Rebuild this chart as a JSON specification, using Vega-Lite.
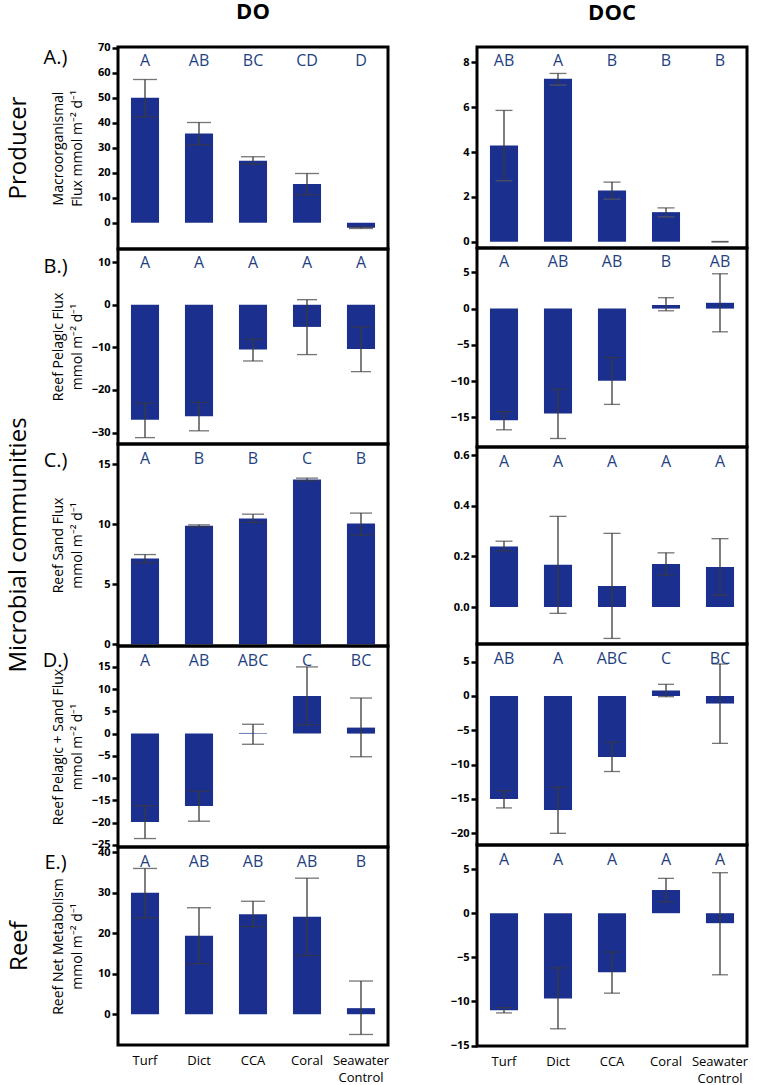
{
  "$schema": "https://vega.github.io/schema/vega-lite/v6.json",
  "padding": {"left": 5, "top": 1, "right": 0, "bottom": 0},
  "background": "white",
  "datasets": {
    "d": [
      {"panel": "A_DO", "cat": "Turf", "mean": 50.0, "lo": 42.4, "hi": 57.3, "letter": "A"},
      {"panel": "A_DO", "cat": "Dict", "mean": 35.7, "lo": 31.2, "hi": 40.1, "letter": "AB"},
      {"panel": "A_DO", "cat": "CCA", "mean": 24.8, "lo": 23.5, "hi": 26.4, "letter": "BC"},
      {"panel": "A_DO", "cat": "Coral", "mean": 15.5, "lo": 11.2, "hi": 19.7, "letter": "CD"},
      {"panel": "A_DO", "cat": "Seawater Control", "mean": -2.0, "lo": -2.3, "hi": -1.7, "letter": "D"},
      {"panel": "A_DOC", "cat": "Turf", "mean": 4.29, "lo": 2.72, "hi": 5.86, "letter": "AB"},
      {"panel": "A_DOC", "cat": "Dict", "mean": 7.27, "lo": 6.99, "hi": 7.51, "letter": "A"},
      {"panel": "A_DOC", "cat": "CCA", "mean": 2.29, "lo": 1.90, "hi": 2.66, "letter": "B"},
      {"panel": "A_DOC", "cat": "Coral", "mean": 1.32, "lo": 1.11, "hi": 1.51, "letter": "B"},
      {"panel": "A_DOC", "cat": "Seawater Control", "mean": 0.0, "lo": -0.01, "hi": 0.01, "letter": "B"},
      {"panel": "B_DO", "cat": "Turf", "mean": -27.0, "lo": -31.2, "hi": -23.1, "letter": "A"},
      {"panel": "B_DO", "cat": "Dict", "mean": -26.2, "lo": -29.6, "hi": -22.9, "letter": "A"},
      {"panel": "B_DO", "cat": "CCA", "mean": -10.5, "lo": -13.2, "hi": -8.1, "letter": "A"},
      {"panel": "B_DO", "cat": "Coral", "mean": -5.2, "lo": -11.7, "hi": 1.2, "letter": "A"},
      {"panel": "B_DO", "cat": "Seawater Control", "mean": -10.4, "lo": -15.7, "hi": -5.2, "letter": "A"},
      {"panel": "B_DOC", "cat": "Turf", "mean": -15.4, "lo": -16.7, "hi": -14.2, "letter": "A"},
      {"panel": "B_DOC", "cat": "Dict", "mean": -14.45, "lo": -17.9, "hi": -11.1, "letter": "AB"},
      {"panel": "B_DOC", "cat": "CCA", "mean": -9.95, "lo": -13.2, "hi": -6.74, "letter": "AB"},
      {"panel": "B_DOC", "cat": "Coral", "mean": 0.5, "lo": -0.3, "hi": 1.5, "letter": "B"},
      {"panel": "B_DOC", "cat": "Seawater Control", "mean": 0.8, "lo": -3.2, "hi": 4.8, "letter": "AB"},
      {"panel": "C_DO", "cat": "Turf", "mean": 7.14, "lo": 6.78, "hi": 7.47, "letter": "A"},
      {"panel": "C_DO", "cat": "Dict", "mean": 9.86, "lo": 9.78, "hi": 9.94, "letter": "B"},
      {"panel": "C_DO", "cat": "CCA", "mean": 10.47, "lo": 10.14, "hi": 10.83, "letter": "B"},
      {"panel": "C_DO", "cat": "Coral", "mean": 13.72, "lo": 13.6, "hi": 13.83, "letter": "C"},
      {"panel": "C_DO", "cat": "Seawater Control", "mean": 10.06, "lo": 9.08, "hi": 10.92, "letter": "B"},
      {"panel": "C_DOC", "cat": "Turf", "mean": 0.239, "lo": 0.222, "hi": 0.26, "letter": "A"},
      {"panel": "C_DOC", "cat": "Dict", "mean": 0.167, "lo": -0.025, "hi": 0.358, "letter": "A"},
      {"panel": "C_DOC", "cat": "CCA", "mean": 0.083, "lo": -0.124, "hi": 0.291, "letter": "A"},
      {"panel": "C_DOC", "cat": "Coral", "mean": 0.17, "lo": 0.126, "hi": 0.214, "letter": "A"},
      {"panel": "C_DOC", "cat": "Seawater Control", "mean": 0.158, "lo": 0.046, "hi": 0.27, "letter": "A"},
      {"panel": "D_DO", "cat": "Turf", "mean": -19.85, "lo": -23.6, "hi": -16.2, "letter": "A"},
      {"panel": "D_DO", "cat": "Dict", "mean": -16.3, "lo": -19.7, "hi": -12.96, "letter": "AB"},
      {"panel": "D_DO", "cat": "CCA", "mean": 0.15, "lo": -2.4, "hi": 2.1, "letter": "ABC"},
      {"panel": "D_DO", "cat": "Coral", "mean": 8.46, "lo": 2.0, "hi": 15.0, "letter": "C"},
      {"panel": "D_DO", "cat": "Seawater Control", "mean": 1.35, "lo": -5.2, "hi": 8.0, "letter": "BC"},
      {"panel": "D_DOC", "cat": "Turf", "mean": -15.0, "lo": -16.3, "hi": -13.8, "letter": "AB"},
      {"panel": "D_DOC", "cat": "Dict", "mean": -16.6, "lo": -20.0, "hi": -13.3, "letter": "A"},
      {"panel": "D_DOC", "cat": "CCA", "mean": -8.9, "lo": -11.0, "hi": -6.7, "letter": "ABC"},
      {"panel": "D_DOC", "cat": "Coral", "mean": 0.8, "lo": -0.1, "hi": 1.7, "letter": "C"},
      {"panel": "D_DOC", "cat": "Seawater Control", "mean": -1.1, "lo": -6.9, "hi": 4.66, "letter": "BC"},
      {"panel": "E_DO", "cat": "Turf", "mean": 30.0, "lo": 23.8, "hi": 36.0, "letter": "A"},
      {"panel": "E_DO", "cat": "Dict", "mean": 19.4, "lo": 12.5, "hi": 26.3, "letter": "AB"},
      {"panel": "E_DO", "cat": "CCA", "mean": 24.7, "lo": 21.65, "hi": 27.9, "letter": "AB"},
      {"panel": "E_DO", "cat": "Coral", "mean": 24.1, "lo": 14.5, "hi": 33.6, "letter": "AB"},
      {"panel": "E_DO", "cat": "Seawater Control", "mean": 1.5, "lo": -5.0, "hi": 8.2, "letter": "B"},
      {"panel": "E_DOC", "cat": "Turf", "mean": -11.0, "lo": -11.3, "hi": -10.7, "letter": "A"},
      {"panel": "E_DOC", "cat": "Dict", "mean": -9.66, "lo": -13.1, "hi": -6.2, "letter": "A"},
      {"panel": "E_DOC", "cat": "CCA", "mean": -6.7, "lo": -9.06, "hi": -4.4, "letter": "A"},
      {"panel": "E_DOC", "cat": "Coral", "mean": 2.63, "lo": 1.28, "hi": 3.95, "letter": "A"},
      {"panel": "E_DOC", "cat": "Seawater Control", "mean": -1.13, "lo": -6.98, "hi": 4.59, "letter": "A"}
    ]
  },
  "data": {"name": "d"},
  "spacing": 57,
  "hconcat": [
    {
      "title": {"text": "DO", "fontSize": 22, "fontWeight": "bold", "anchor": "middle", "frame": "group", "offset": 16, "dx": 135},
      "spacing": 0,
      "bounds": "flush",
      "vconcat": [
        {
          "width": 270, "height": 202,
          "title": {"text": "Producer", "orient": "left", "fontSize": 24, "fontWeight": "normal", "anchor": "middle", "offset": 12},
          "transform": [{"filter": "datum.panel === 'A_DO'"}],
          "encoding": {"x": {"field": "cat", "type": "nominal", "sort": ["Turf", "Dict", "CCA", "Coral", "Seawater Control"], "scale": {"paddingInner": 0.48, "paddingOuter": 0.24}, "axis": {"labels": false, "title": "A.)", "titleY": -192}}},
          "layer": [
            {"mark": {"type": "bar", "color": "#1B2F8E"}, "encoding": {"y": {"field": "mean", "type": "quantitative", "scale": {"domain": [-10.5, 70.3], "nice": false}, "axis": {"values": [0, 10, 20, 30, 40, 50, 60, 70], "format": "d", "tickCount": 20, "labelOverlap": false, "title": ["Macroorganismal", "Flux mmol m⁻² d⁻¹"], "titleY": 101}}, "y2": {"datum": 0}}},
            {"mark": {"type": "rule", "color": "#3a3a3a", "strokeWidth": 1.3}, "encoding": {"y": {"field": "lo", "type": "quantitative"}, "y2": {"field": "hi"}}},
            {"mark": {"type": "tick", "color": "#3a3a3a", "size": 24, "thickness": 1.3}, "encoding": {"y": {"field": "lo", "type": "quantitative"}}},
            {"mark": {"type": "tick", "color": "#3a3a3a", "size": 24, "thickness": 1.3}, "encoding": {"y": {"field": "hi", "type": "quantitative"}}},
            {"mark": {"type": "text", "color": "#1F3F7F", "fontSize": 16, "baseline": "middle", "dy": 14}, "encoding": {"y": {"value": 0}, "text": {"field": "letter"}}}
          ]
        },
        {
          "width": 270, "height": 195,
          "transform": [{"filter": "datum.panel === 'B_DO'"}],
          "encoding": {"x": {"field": "cat", "type": "nominal", "sort": ["Turf", "Dict", "CCA", "Coral", "Seawater Control"], "scale": {"paddingInner": 0.48, "paddingOuter": 0.24}, "axis": {"labels": false, "title": "B.)", "titleY": -178}}},
          "layer": [
            {"mark": {"type": "bar", "color": "#1B2F8E"}, "encoding": {"y": {"field": "mean", "type": "quantitative", "scale": {"domain": [-32.7, 13.1], "nice": false}, "axis": {"values": [-30, -20, -10, 0, 10], "format": "d", "tickCount": 20, "labelOverlap": false, "title": ["Reef Pelagic Flux", "mmol m⁻² d⁻¹"], "titleY": 97.5}}, "y2": {"datum": 0}}},
            {"mark": {"type": "rule", "color": "#3a3a3a", "strokeWidth": 1.3}, "encoding": {"y": {"field": "lo", "type": "quantitative"}, "y2": {"field": "hi"}}},
            {"mark": {"type": "tick", "color": "#3a3a3a", "size": 20, "thickness": 1.3}, "encoding": {"y": {"field": "lo", "type": "quantitative"}}},
            {"mark": {"type": "tick", "color": "#3a3a3a", "size": 20, "thickness": 1.3}, "encoding": {"y": {"field": "hi", "type": "quantitative"}}},
            {"mark": {"type": "text", "color": "#1F3F7F", "fontSize": 16, "baseline": "middle", "dy": 14}, "encoding": {"y": {"value": 0}, "text": {"field": "letter"}}}
          ]
        },
        {
          "width": 270, "height": 202,
          "title": {"text": "Microbial communities", "orient": "left", "fontSize": 24, "fontWeight": "normal", "anchor": "middle", "offset": 12},
          "transform": [{"filter": "datum.panel === 'C_DO'"}],
          "encoding": {"x": {"field": "cat", "type": "nominal", "sort": ["Turf", "Dict", "CCA", "Coral", "Seawater Control"], "scale": {"paddingInner": 0.48, "paddingOuter": 0.24}, "axis": {"labels": false, "title": "C.)", "titleY": -186}}},
          "layer": [
            {"mark": {"type": "bar", "color": "#1B2F8E"}, "encoding": {"y": {"field": "mean", "type": "quantitative", "scale": {"domain": [-0.14, 16.67], "nice": false}, "axis": {"values": [0, 5, 10, 15], "format": "d", "tickCount": 20, "labelOverlap": false, "title": ["Reef Sand Flux", "mmol m⁻² d⁻¹"], "titleY": 101}}, "y2": {"datum": 0}}},
            {"mark": {"type": "rule", "color": "#3a3a3a", "strokeWidth": 1.3}, "encoding": {"y": {"field": "lo", "type": "quantitative"}, "y2": {"field": "hi"}}},
            {"mark": {"type": "tick", "color": "#3a3a3a", "size": 22, "thickness": 1.3}, "encoding": {"y": {"field": "lo", "type": "quantitative"}}},
            {"mark": {"type": "tick", "color": "#3a3a3a", "size": 22, "thickness": 1.3}, "encoding": {"y": {"field": "hi", "type": "quantitative"}}},
            {"mark": {"type": "text", "color": "#1F3F7F", "fontSize": 16, "baseline": "middle", "dy": 15}, "encoding": {"y": {"value": 0}, "text": {"field": "letter"}}}
          ]
        },
        {
          "width": 270, "height": 201,
          "transform": [{"filter": "datum.panel === 'D_DO'"}],
          "encoding": {"x": {"field": "cat", "type": "nominal", "sort": ["Turf", "Dict", "CCA", "Coral", "Seawater Control"], "scale": {"paddingInner": 0.48, "paddingOuter": 0.24}, "axis": {"labels": false, "title": "D.)", "titleY": -187}}},
          "layer": [
            {"mark": {"type": "bar", "color": "#1B2F8E"}, "encoding": {"y": {"field": "mean", "type": "quantitative", "scale": {"domain": [-25.5, 19.7], "nice": false}, "axis": {"values": [-25, -20, -15, -10, -5, 0, 5, 10, 15], "format": "d", "tickCount": 20, "labelOverlap": false, "title": ["Reef Pelagic + Sand Flux", "mmol m⁻² d⁻¹"], "titleY": 100.5}}, "y2": {"datum": 0}}},
            {"mark": {"type": "rule", "color": "#3a3a3a", "strokeWidth": 1.3}, "encoding": {"y": {"field": "lo", "type": "quantitative"}, "y2": {"field": "hi"}}},
            {"mark": {"type": "tick", "color": "#3a3a3a", "size": 22, "thickness": 1.3}, "encoding": {"y": {"field": "lo", "type": "quantitative"}}},
            {"mark": {"type": "tick", "color": "#3a3a3a", "size": 22, "thickness": 1.3}, "encoding": {"y": {"field": "hi", "type": "quantitative"}}},
            {"mark": {"type": "text", "color": "#1F3F7F", "fontSize": 16, "baseline": "middle", "dy": 15}, "encoding": {"y": {"value": 0}, "text": {"field": "letter"}}}
          ]
        },
        {
          "width": 270, "height": 198,
          "title": {"text": "Reef", "orient": "left", "fontSize": 24, "fontWeight": "normal", "anchor": "middle", "offset": 12},
          "transform": [{"filter": "datum.panel === 'E_DO'"}],
          "encoding": {"x": {"field": "cat", "type": "nominal", "sort": ["Turf", "Dict", "CCA", "Coral", "Seawater Control"], "scale": {"paddingInner": 0.48, "paddingOuter": 0.24}, "axis": {"labels": true, "labelExpr": "datum.value == 'Seawater Control' ? ['Seawater', 'Control'] : datum.value", "title": "E.)", "titleY": -183}}},
          "layer": [
            {"mark": {"type": "bar", "color": "#1B2F8E"}, "encoding": {"y": {"field": "mean", "type": "quantitative", "scale": {"domain": [-7.6, 41.3], "nice": false}, "axis": {"values": [0, 10, 20, 30, 40], "format": "d", "tickCount": 20, "labelOverlap": false, "title": ["Reef Net Metabolism", "mmol m⁻² d⁻¹"], "titleY": 99}}, "y2": {"datum": 0}}},
            {"mark": {"type": "rule", "color": "#3a3a3a", "strokeWidth": 1.3}, "encoding": {"y": {"field": "lo", "type": "quantitative"}, "y2": {"field": "hi"}}},
            {"mark": {"type": "tick", "color": "#3a3a3a", "size": 24, "thickness": 1.3}, "encoding": {"y": {"field": "lo", "type": "quantitative"}}},
            {"mark": {"type": "tick", "color": "#3a3a3a", "size": 24, "thickness": 1.3}, "encoding": {"y": {"field": "hi", "type": "quantitative"}}},
            {"mark": {"type": "text", "color": "#1F3F7F", "fontSize": 16, "baseline": "middle", "dy": 15}, "encoding": {"y": {"value": 0}, "text": {"field": "letter"}}}
          ]
        }
      ]
    },
    {
      "title": {"text": "DOC", "fontSize": 22, "fontWeight": "bold", "anchor": "middle", "frame": "group", "offset": 21, "dx": 135},
      "spacing": 0,
      "bounds": "flush",
      "vconcat": [
        {
          "width": 270, "height": 201,
          "transform": [{"filter": "datum.panel === 'A_DOC'"}],
          "encoding": {"x": {"field": "cat", "type": "nominal", "sort": ["Turf", "Dict", "CCA", "Coral", "Seawater Control"], "scale": {"paddingInner": 0.48, "paddingOuter": 0.24}, "axis": null}},
          "layer": [
            {"mark": {"type": "bar", "color": "#1B2F8E"}, "encoding": {"y": {"field": "mean", "type": "quantitative", "scale": {"domain": [-0.28, 8.69], "nice": false}, "axis": {"values": [0, 2, 4, 6, 8], "format": "d", "tickCount": 20, "labelOverlap": false, "title": null}}, "y2": {"datum": 0}}},
            {"mark": {"type": "rule", "color": "#3a3a3a", "strokeWidth": 1.3}, "encoding": {"y": {"field": "lo", "type": "quantitative"}, "y2": {"field": "hi"}}},
            {"mark": {"type": "tick", "color": "#5a5a5a", "size": 17, "thickness": 1.5}, "encoding": {"y": {"field": "lo", "type": "quantitative"}}},
            {"mark": {"type": "tick", "color": "#3a3a3a", "size": 17, "thickness": 1.3}, "encoding": {"y": {"field": "hi", "type": "quantitative"}}},
            {"mark": {"type": "text", "color": "#1F3F7F", "fontSize": 16, "baseline": "middle", "dy": 14}, "encoding": {"y": {"value": 0}, "text": {"field": "letter"}}}
          ]
        },
        {
          "width": 270, "height": 199,
          "transform": [{"filter": "datum.panel === 'B_DOC'"}],
          "encoding": {"x": {"field": "cat", "type": "nominal", "sort": ["Turf", "Dict", "CCA", "Coral", "Seawater Control"], "scale": {"paddingInner": 0.48, "paddingOuter": 0.24}, "axis": null}},
          "layer": [
            {"mark": {"type": "bar", "color": "#1B2F8E"}, "encoding": {"y": {"field": "mean", "type": "quantitative", "scale": {"domain": [-19.07, 8.35], "nice": false}, "axis": {"values": [-15, -10, -5, 0, 5], "format": "d", "tickCount": 20, "labelOverlap": false, "title": null}}, "y2": {"datum": 0}}},
            {"mark": {"type": "rule", "color": "#3a3a3a", "strokeWidth": 1.3}, "encoding": {"y": {"field": "lo", "type": "quantitative"}, "y2": {"field": "hi"}}},
            {"mark": {"type": "tick", "color": "#3a3a3a", "size": 16, "thickness": 1.3}, "encoding": {"y": {"field": "lo", "type": "quantitative"}}},
            {"mark": {"type": "tick", "color": "#3a3a3a", "size": 16, "thickness": 1.3}, "encoding": {"y": {"field": "hi", "type": "quantitative"}}},
            {"mark": {"type": "text", "color": "#1F3F7F", "fontSize": 16, "baseline": "middle", "dy": 14}, "encoding": {"y": {"value": 0}, "text": {"field": "letter"}}}
          ]
        },
        {
          "width": 270, "height": 197,
          "transform": [{"filter": "datum.panel === 'C_DOC'"}],
          "encoding": {"x": {"field": "cat", "type": "nominal", "sort": ["Turf", "Dict", "CCA", "Coral", "Seawater Control"], "scale": {"paddingInner": 0.48, "paddingOuter": 0.24}, "axis": null}},
          "layer": [
            {"mark": {"type": "bar", "color": "#1B2F8E"}, "encoding": {"y": {"field": "mean", "type": "quantitative", "scale": {"domain": [-0.146, 0.632], "nice": false}, "axis": {"values": [0, 0.2, 0.4, 0.6], "tickCount": 20, "labelOverlap": false, "format": ".1f", "title": null}}, "y2": {"datum": 0}}},
            {"mark": {"type": "rule", "color": "#3a3a3a", "strokeWidth": 1.3}, "encoding": {"y": {"field": "lo", "type": "quantitative"}, "y2": {"field": "hi"}}},
            {"mark": {"type": "tick", "color": "#3a3a3a", "size": 17, "thickness": 1.3}, "encoding": {"y": {"field": "lo", "type": "quantitative"}}},
            {"mark": {"type": "tick", "color": "#3a3a3a", "size": 17, "thickness": 1.3}, "encoding": {"y": {"field": "hi", "type": "quantitative"}}},
            {"mark": {"type": "text", "color": "#1F3F7F", "fontSize": 16, "baseline": "middle", "dy": 15}, "encoding": {"y": {"value": 0}, "text": {"field": "letter"}}}
          ]
        },
        {
          "width": 270, "height": 201,
          "transform": [{"filter": "datum.panel === 'D_DOC'"}],
          "encoding": {"x": {"field": "cat", "type": "nominal", "sort": ["Turf", "Dict", "CCA", "Coral", "Seawater Control"], "scale": {"paddingInner": 0.48, "paddingOuter": 0.24}, "axis": null}},
          "layer": [
            {"mark": {"type": "bar", "color": "#1B2F8E"}, "encoding": {"y": {"field": "mean", "type": "quantitative", "scale": {"domain": [-21.7, 7.57], "nice": false}, "axis": {"values": [-20, -15, -10, -5, 0, 5], "format": "d", "tickCount": 20, "labelOverlap": false, "title": null}}, "y2": {"datum": 0}}},
            {"mark": {"type": "rule", "color": "#3a3a3a", "strokeWidth": 1.3}, "encoding": {"y": {"field": "lo", "type": "quantitative"}, "y2": {"field": "hi"}}},
            {"mark": {"type": "tick", "color": "#3a3a3a", "size": 16, "thickness": 1.3}, "encoding": {"y": {"field": "lo", "type": "quantitative"}}},
            {"mark": {"type": "tick", "color": "#3a3a3a", "size": 16, "thickness": 1.3}, "encoding": {"y": {"field": "hi", "type": "quantitative"}}},
            {"mark": {"type": "text", "color": "#1F3F7F", "fontSize": 16, "baseline": "middle", "dy": 15}, "encoding": {"y": {"value": 0}, "text": {"field": "letter"}}}
          ]
        },
        {
          "width": 270, "height": 201,
          "transform": [{"filter": "datum.panel === 'E_DOC'"}],
          "encoding": {"x": {"field": "cat", "type": "nominal", "sort": ["Turf", "Dict", "CCA", "Coral", "Seawater Control"], "scale": {"paddingInner": 0.48, "paddingOuter": 0.24}, "axis": {"labels": true, "labelExpr": "datum.value == 'Seawater Control' ? ['Seawater', 'Control'] : datum.value", "title": null}}},
          "layer": [
            {"mark": {"type": "bar", "color": "#1B2F8E"}, "encoding": {"y": {"field": "mean", "type": "quantitative", "scale": {"domain": [-15.05, 7.73], "nice": false}, "axis": {"values": [-15, -10, -5, 0, 5], "format": "d", "tickCount": 20, "labelOverlap": false, "title": null}}, "y2": {"datum": 0}}},
            {"mark": {"type": "rule", "color": "#3a3a3a", "strokeWidth": 1.3}, "encoding": {"y": {"field": "lo", "type": "quantitative"}, "y2": {"field": "hi"}}},
            {"mark": {"type": "tick", "color": "#3a3a3a", "size": 16, "thickness": 1.3}, "encoding": {"y": {"field": "lo", "type": "quantitative"}}},
            {"mark": {"type": "tick", "color": "#3a3a3a", "size": 16, "thickness": 1.3}, "encoding": {"y": {"field": "hi", "type": "quantitative"}}},
            {"mark": {"type": "text", "color": "#1F3F7F", "fontSize": 16, "baseline": "middle", "dy": 15}, "encoding": {"y": {"value": 0}, "text": {"field": "letter"}}}
          ]
        }
      ]
    }
  ],
  "config": {
    "font": "Open Sans",
    "view": {"stroke": "black", "strokeWidth": 3},
    "title": {"font": "Open Sans", "color": "black"},
    "axis": {"grid": false, "domain": false, "labelColor": "black", "tickColor": "black", "titleColor": "black", "labelFont": "Open Sans", "titleFont": "Open Sans"},
    "axisY": {"labelFontWeight": "bold", "labelFontSize": 11, "labelOverlap": false, "tickWidth": 2.5, "tickSize": 6, "labelPadding": 2, "titleFontWeight": "normal", "titleFontSize": 14, "titleLineHeight": 19, "titleAngle": -90, "titleX": -60, "titleAlign": "center", "titleBaseline": "middle"},
    "axisX": {"labelAngle": 0, "ticks": false, "labelFontSize": 13, "labelPadding": 9, "labelLineHeight": 17, "titleFontSize": 20, "titleFontWeight": "normal", "titleAngle": 0, "titleX": -63, "titleAlign": "center", "titleBaseline": "middle"}
  }
}
